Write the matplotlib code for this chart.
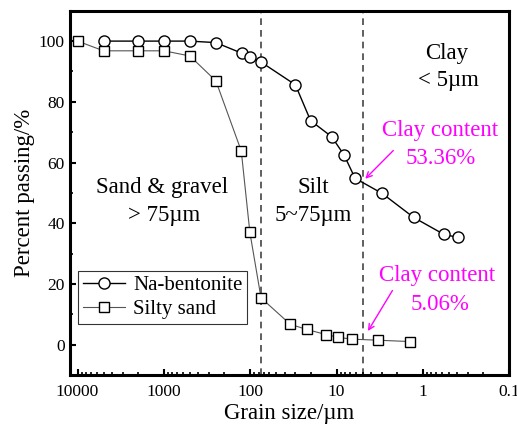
import matplotlib
matplotlib.use("Agg")
import matplotlib.pyplot as plt
from matplotlib.ticker import FixedLocator, FixedFormatter, LogLocator, MultipleLocator

plt.rcParams['font.family'] = ['Liberation Serif', 'DejaVu Serif']

# Na-bentonite grading curve
bento_size = [5000, 2000, 1000, 500, 250, 125, 100, 75, 30, 20, 11.4, 8.2, 6.1, 2.96, 1.28, 0.57, 0.39]
bento_pass = [100, 100, 100, 100, 99.5, 96.0, 94.6, 93.1, 85.6, 73.8, 68.5, 62.5, 54.8, 49.8, 41.9, 36.3, 35.3]

# Silty sand grading curve
sand_size = [10000, 5000, 2000, 1000, 500, 250, 127, 101, 75, 34.4, 22.2, 13.2, 9.5, 6.7, 3.3, 1.41]
sand_pass = [100, 96.8, 96.8, 96.8, 95.1, 86.9, 63.8, 37.0, 15.4, 6.7, 5.0, 3.3, 2.4, 1.8, 1.45, 1.0]

boundaries = [75, 5]
x_ticks = [10000, 1000, 100, 10, 1, 0.1]
x_labels = ['10000', '1000', '100', '10', '1', '0.1']

MAGENTA = '#FF00FF'
FS = 16.5

fig = plt.figure(figsize=(5.17, 4.30), dpi=100)
ax = fig.add_axes([0.135, 0.128, 0.850, 0.847])

ax.plot(bento_size, bento_pass, color='black', lw=1.0, marker='o', ms=8,
        mfc='white', mec='black', mew=1.0, label='Na-bentonite', zorder=3)
ax.plot(sand_size, sand_pass, color='#555555', lw=0.8, marker='s', ms=7.5,
        mfc='white', mec='black', mew=1.0, label='Silty sand', zorder=3)

for b in boundaries:
    ax.axvline(b, color='#444444', ls=(0, (4, 3)), lw=1.2, zorder=1)

ax.set_xscale('log')
ax.set_xlim(12300, 0.1)
ax.set_ylim(-10, 110)

ax.xaxis.set_major_locator(FixedLocator(x_ticks))
ax.xaxis.set_major_formatter(FixedFormatter(x_labels))
ax.xaxis.set_minor_locator(LogLocator(base=10, subs=range(2, 10)))
ax.yaxis.set_major_locator(MultipleLocator(20))
ax.yaxis.set_minor_locator(MultipleLocator(10))

ax.tick_params(which='both', direction='in', labelsize=12.5)
ax.tick_params(which='major', length=4, width=1.5)
ax.tick_params(which='minor', length=2.5, width=1.2)
ax.tick_params(axis='x', which='major', pad=6.5)
for s in ax.spines.values():
    s.set_linewidth(2.2)

ax.set_xlabel('Grain size/µm', fontsize=FS, labelpad=2.5)
ax.set_ylabel('Percent passing/%', fontsize=FS, labelpad=3)

# zone labels
ax.text(1050, 51.7, 'Sand & gravel', fontsize=FS, ha='center', va='center')
ax.text(1000, 42.4, '> 75µm', fontsize=FS, ha='center', va='center')
ax.text(18.7, 51.7, 'Silt', fontsize=FS, ha='center', va='center')
ax.text(18.7, 42.4, '5~75µm', fontsize=FS, ha='center', va='center')
ax.text(0.535, 96.0, 'Clay', fontsize=FS, ha='center', va='center')
ax.text(0.51, 87.1, '< 5µm', fontsize=FS, ha='center', va='center')

# clay content callouts
ax.text(0.63, 70.5, 'Clay content', fontsize=FS, color=MAGENTA, ha='center', va='center')
ax.text(0.63, 61.3, '53.36%', fontsize=FS, color=MAGENTA, ha='center', va='center')
ax.annotate('', xy=(4.9, 54.0), xytext=(2.09, 64.6),
            arrowprops=dict(arrowstyle='->', color=MAGENTA, lw=1.0))
ax.text(0.69, 22.9, 'Clay content', fontsize=FS, color=MAGENTA, ha='center', va='center')
ax.text(0.63, 13.3, '5.06%', fontsize=FS, color=MAGENTA, ha='center', va='center')
ax.annotate('', xy=(4.5, 3.7), xytext=(2.17, 18.6),
            arrowprops=dict(arrowstyle='->', color=MAGENTA, lw=1.0))

leg = ax.legend(loc='lower left', bbox_to_anchor=(0.018, 0.139), fontsize=15,
                frameon=True, fancybox=False, edgecolor='black',
                handlelength=2.0, borderpad=0.25, labelspacing=0.2,
                handletextpad=0.4, borderaxespad=0)
leg.get_frame().set_linewidth(0.8)

fig.savefig('out.png', dpi=100)
